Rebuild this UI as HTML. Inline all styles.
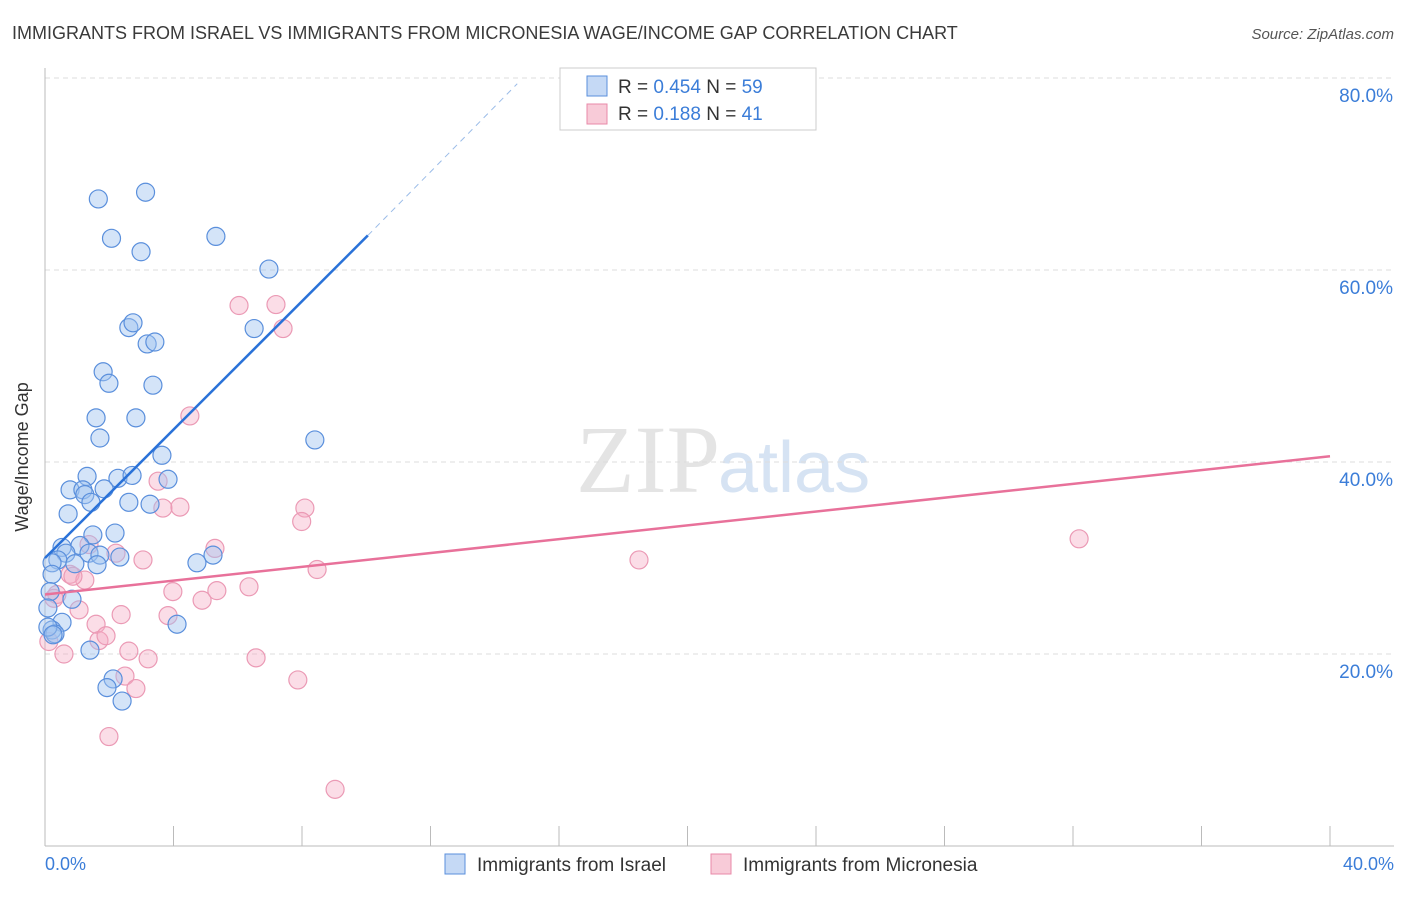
<!DOCTYPE html>
<html><head><meta charset="utf-8"><style>
body{margin:0;background:#fff;font-family:"Liberation Sans",sans-serif;}
</style></head><body>
<svg width="1406" height="892" xmlns="http://www.w3.org/2000/svg" font-family="Liberation Sans, sans-serif">
<text x="12" y="39" font-size="18" fill="#3a3a3a">IMMIGRANTS FROM ISRAEL VS IMMIGRANTS FROM MICRONESIA WAGE/INCOME GAP CORRELATION CHART</text>
<text x="1394" y="39" font-size="15" fill="#555" font-style="italic" text-anchor="end">Source: ZipAtlas.com</text>
<text x="720" y="492" font-size="96" fill="#e4e4e4" font-family="Liberation Serif, serif" text-anchor="end">ZIP</text>
<text x="718" y="492" font-size="72" fill="#d6e3f3">atlas</text>
<g id="grid"></g>
<line x1="45" y1="68" x2="45" y2="846" stroke="#bbb"/>
<line x1="45" y1="846" x2="1394" y2="846" stroke="#bbb"/>
<g id="xticks"></g>
<text x="28" y="457" font-size="18" fill="#333" text-anchor="middle" transform="rotate(-90 28 457)">Wage/Income Gap</text>
<text x="45" y="870" font-size="18" fill="#3b7dd8">0.0%</text>
<text x="1394" y="870" font-size="18" fill="#3b7dd8" text-anchor="end">40.0%</text>
<g id="pts"></g>
<g id="lines"></g>
<g>
<rect x="560" y="68" width="256" height="62" fill="#fff" stroke="#ccc"/>
<rect x="587" y="76" width="20" height="20" fill="#c5d9f5" stroke="#5a8fdc"/>
<rect x="587" y="104" width="20" height="20" fill="#f8cbd8" stroke="#e88aa8"/>
<text x="618" y="93" font-size="19" fill="#333">R = <tspan fill="#3b7dd8">0.454</tspan>   N = <tspan fill="#3b7dd8">59</tspan></text>
<text x="618" y="120" font-size="19" fill="#333">R =  <tspan fill="#3b7dd8">0.188</tspan>   N =  <tspan fill="#3b7dd8">41</tspan></text>
</g>
<g>
<rect x="445" y="854" width="20" height="20" fill="#c5d9f5" stroke="#5a8fdc"/>
<text x="477" y="871" font-size="19" fill="#333">Immigrants from Israel</text>
<rect x="711" y="854" width="20" height="20" fill="#f8cbd8" stroke="#e88aa8"/>
<text x="743" y="871" font-size="19" fill="#333">Immigrants from Micronesia</text>
</g>
</svg>
<script>
const yTicks=[20,40,60,80];
const xTickCount=10;
const israelX=[1.66,3.13,2.07,2.99,5.32,6.97,2.61,2.74,3.18,3.42,6.51,1.81,1.99,3.36,1.59,2.83,1.71,3.64,8.40,1.31,2.27,2.71,3.83,0.78,1.18,1.24,1.84,1.43,2.61,3.27,0.72,1.49,2.18,0.53,1.09,1.37,1.71,0.65,0.40,0.22,0.93,1.62,2.33,5.23,4.73,0.22,0.84,0.16,0.53,0.22,0.31,0.09,4.11,1.40,2.12,1.93,2.40,0.09,0.25];
const israelY=[67.4,68.1,63.3,61.9,63.5,60.1,54.0,54.5,52.3,52.5,53.9,49.4,48.2,48.0,44.6,44.6,42.5,40.7,42.3,38.5,38.3,38.6,38.2,37.1,37.1,36.6,37.2,35.8,35.8,35.6,34.6,32.4,32.6,31.1,31.3,30.5,30.3,30.5,29.8,29.5,29.4,29.3,30.1,30.3,29.5,28.3,25.7,26.5,23.3,22.5,22.1,22.8,23.1,20.4,17.4,16.5,15.1,24.8,22.0];
const microX=[6.04,7.19,7.41,4.51,3.52,4.20,3.67,8.09,7.99,5.29,2.21,3.05,1.37,0.78,1.24,0.87,8.47,18.49,32.19,0.37,0.28,6.35,5.35,3.98,4.89,1.06,2.37,3.83,1.59,1.68,1.90,0.12,0.59,2.61,3.21,6.57,2.49,2.83,7.87,1.99,9.03];
const microY=[56.3,56.4,53.9,44.8,38.0,35.3,35.2,35.2,33.8,31.0,30.5,29.8,31.4,28.3,27.7,28.1,28.8,29.8,32.0,26.2,25.8,27.0,26.6,26.5,25.6,24.6,24.1,24.0,23.1,21.4,21.9,21.3,20.0,20.3,19.5,19.6,17.7,16.4,17.3,11.4,5.9];
const pinkLine=[26.2,40.6];
const blueLine=[30.0,63.6,79.4];
const NS="http://www.w3.org/2000/svg";
const X=v=>45+v/40*1285, Y=v=>846-v*9.6;
function mk(t,a,p){const e=document.createElementNS(NS,t);for(const k in a)e.setAttribute(k,a[k]);document.getElementById(p).appendChild(e);return e;}
yTicks.forEach(t=>{
 const l=mk('line',{x1:45,x2:1394,y1:Y(t),y2:Y(t),stroke:'#ddd','stroke-dasharray':'5,4'},'grid');
 
 
 const tx=mk('text',{x:1393,y:Y(t)+24,'font-size':19,fill:'#3b7dd8','text-anchor':'end'},'grid');
 tx.textContent=t.toFixed(1)+'%';
 
 
});
for(let i=1;i<=xTickCount;i++){
 const l=mk('line',{x1:X(i*4),x2:X(i*4),y1:826,y2:846,stroke:'#bbb'},'xticks');
 
 
}
microX.forEach((x,i)=>{
 const c=mk('circle',{cx:X(x),cy:Y(microY[i]),r:9,fill:'rgba(244,170,195,0.4)',stroke:'#eb9ab5','stroke-width':1.2},'pts');
 
 
});
israelX.forEach((x,i)=>{
 const c=mk('circle',{cx:X(x),cy:Y(israelY[i]),r:9,fill:'rgba(160,195,240,0.45)',stroke:'#5a8fdc','stroke-width':1.2},'pts');
 
 
});
let l=mk('line',{x1:X(0),y1:Y(pinkLine[0]),x2:X(40),y2:Y(pinkLine[1]),stroke:'#e8719a','stroke-width':2.5},'lines');


l=mk('line',{x1:X(0),y1:Y(blueLine[0]),x2:X(10.05),y2:Y(blueLine[1]),stroke:'#2a72d8','stroke-width':2.5},'lines');


l=mk('line',{x1:X(10.05),y1:Y(blueLine[1]),x2:X(14.7),y2:Y(blueLine[2]),stroke:'#9bbce8','stroke-width':1,'stroke-dasharray':'6,5'},'lines');


</script>
</body></html>
